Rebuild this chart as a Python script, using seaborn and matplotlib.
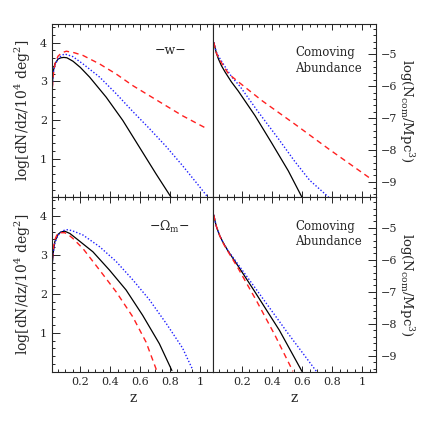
import numpy as np
import matplotlib
matplotlib.use("Agg")
import matplotlib.pyplot as plt
import seaborn as sns
from matplotlib.ticker import MultipleLocator, FixedLocator, FixedFormatter

# ---- top-left: log dN/dz, w variations ----
w_dndz_black_z = [0.013, 0.02, 0.029, 0.051, 0.07, 0.089, 0.11, 0.151, 0.2, 0.262, 0.373, 0.484, 0.595, 0.706, 0.806]
w_dndz_black_y = [2.98, 3.28, 3.45, 3.58, 3.61, 3.62, 3.61, 3.52, 3.36, 3.11, 2.59, 1.99, 1.30, 0.61, 0.01]
w_dndz_blue_z = [0.013, 0.02, 0.03, 0.05, 0.07, 0.095, 0.15, 0.218, 0.329, 0.44, 0.551, 0.662, 0.773, 0.884, 0.995, 1.05]
w_dndz_blue_y = [2.90, 3.25, 3.42, 3.58, 3.66, 3.71, 3.64, 3.45, 3.11, 2.68, 2.22, 1.78, 1.32, 0.82, 0.29, 0.02]
w_dndz_red_z = [0.013, 0.02, 0.03, 0.05, 0.075, 0.106, 0.16, 0.218, 0.329, 0.44, 0.551, 0.662, 0.773, 0.884, 1.05]
w_dndz_red_y = [2.85, 3.20, 3.45, 3.65, 3.74, 3.78, 3.74, 3.67, 3.45, 3.19, 2.89, 2.63, 2.37, 2.11, 1.77]

# ---- bottom-left: log dN/dz, Omega_m variations ----
om_dndz_black_z = [0.013, 0.02, 0.029, 0.051, 0.07, 0.095, 0.13, 0.173, 0.284, 0.395, 0.506, 0.617, 0.729, 0.813]
om_dndz_black_y = [2.82, 3.10, 3.34, 3.53, 3.59, 3.61, 3.55, 3.42, 3.08, 2.61, 2.10, 1.45, 0.72, 0.03]
om_dndz_blue_z = [0.013, 0.02, 0.03, 0.05, 0.07, 0.09, 0.118, 0.16, 0.218, 0.329, 0.44, 0.551, 0.662, 0.773, 0.884, 0.951]
om_dndz_blue_y = [2.85, 3.10, 3.32, 3.50, 3.58, 3.63, 3.65, 3.60, 3.51, 3.21, 2.83, 2.36, 1.85, 1.25, 0.61, 0.06]
om_dndz_red_z = [0.013, 0.02, 0.03, 0.045, 0.06, 0.095, 0.12, 0.151, 0.218, 0.329, 0.44, 0.551, 0.64, 0.711]
om_dndz_red_y = [2.90, 3.20, 3.40, 3.53, 3.57, 3.57, 3.52, 3.42, 3.16, 2.61, 2.05, 1.41, 0.76, 0.03]

# ---- top-right: log N_com, w variations ----
w_ncom_black_z = [0.013, 0.02, 0.03, 0.044, 0.065, 0.088, 0.13, 0.176, 0.287, 0.398, 0.509, 0.60]
w_ncom_black_y = [-4.62, -4.75, -4.95, -5.14, -5.36, -5.55, -5.86, -6.15, -6.92, -7.78, -8.66, -9.49]
w_ncom_blue_z = [0.013, 0.02, 0.03, 0.05, 0.09, 0.133, 0.187, 0.30, 0.443, 0.55, 0.65, 0.778]
w_ncom_blue_y = [-4.62, -4.75, -4.92, -5.10, -5.40, -5.71, -6.00, -6.75, -7.65, -8.35, -8.95, -9.49]
w_ncom_red_z = [0.013, 0.02, 0.03, 0.05, 0.08, 0.111, 0.20, 0.333, 0.555, 0.777, 1.055]
w_ncom_red_y = [-4.62, -4.75, -4.95, -5.15, -5.38, -5.61, -5.95, -6.45, -7.20, -7.97, -8.90]

# ---- bottom-right: log N_com, Omega_m variations ----
om_ncom_black_z = [0.013, 0.02, 0.03, 0.054, 0.08, 0.109, 0.176, 0.287, 0.45, 0.60]
om_ncom_black_y = [-4.60, -4.75, -4.95, -5.26, -5.50, -5.73, -6.20, -7.00, -8.20, -9.48]
om_ncom_blue_z = [0.013, 0.02, 0.03, 0.054, 0.08, 0.109, 0.176, 0.30, 0.50, 0.696]
om_ncom_blue_y = [-4.60, -4.75, -4.95, -5.26, -5.50, -5.72, -6.15, -6.95, -8.25, -9.48]
om_ncom_red_z = [0.013, 0.02, 0.03, 0.054, 0.08, 0.109, 0.176, 0.30, 0.42, 0.54]
om_ncom_red_y = [-4.60, -4.75, -4.95, -5.26, -5.52, -5.75, -6.27, -7.30, -8.35, -9.48]

x_ticks = [0.2, 0.4, 0.6, 0.8, 1.0]
x_tick_labels = ["0.2", "0.4", "0.6", "0.8", "1"]
left_y_ticks = [1, 2, 3, 4]
right_y_ticks = [-5, -6, -7, -8, -9]
right_y_labels = ["\u22125", "\u22126", "\u22127", "\u22128", "\u22129"]

sns.set_style("ticks")
plt.rcParams["font.family"] = ["DejaVu Serif"]
plt.rcParams["mathtext.fontset"] = "dejavuserif"

fig = plt.figure(figsize=(4.24, 4.24), dpi=100)
L, M, R = 0.1226, 0.503, 0.886
T, C, B = 0.943, 0.5347, 0.1233
ax_tl = fig.add_axes([L, C, M - L, T - C])
ax_tr = fig.add_axes([M, C, R - M, T - C])
ax_bl = fig.add_axes([L, B, M - L, C - B])
ax_br = fig.add_axes([M, B, R - M, C - B])

styles = {
    "black": dict(color="black", linestyle="-", linewidth=0.9),
    "blue": dict(color="#2020ff", linestyle=(0, (1, 1.4)), linewidth=1.0),
    "red": dict(color="#ff2020", linestyle=(0, (4, 3)), linewidth=1.0),
}


def draw(ax, curves):
    for name, z, y in curves:
        sns.lineplot(x=z, y=y, ax=ax, estimator=None, sort=False, **styles[name])


draw(ax_tl, [("black", w_dndz_black_z, w_dndz_black_y),
             ("blue", w_dndz_blue_z, w_dndz_blue_y),
             ("red", w_dndz_red_z, w_dndz_red_y)])
draw(ax_bl, [("black", om_dndz_black_z, om_dndz_black_y),
             ("blue", om_dndz_blue_z, om_dndz_blue_y),
             ("red", om_dndz_red_z, om_dndz_red_y)])
draw(ax_tr, [("black", w_ncom_black_z, w_ncom_black_y),
             ("blue", w_ncom_blue_z, w_ncom_blue_y),
             ("red", w_ncom_red_z, w_ncom_red_y)])
draw(ax_br, [("black", om_ncom_black_z, om_ncom_black_y),
             ("blue", om_ncom_blue_z, om_ncom_blue_y),
             ("red", om_ncom_red_z, om_ncom_red_y)])

for ax in (ax_tl, ax_tr, ax_bl, ax_br):
    ax.set_xlim(0.01, 1.09)
    ax.xaxis.set_major_locator(FixedLocator(x_ticks))
    ax.xaxis.set_major_formatter(FixedFormatter(x_tick_labels))
    ax.xaxis.set_minor_locator(MultipleLocator(0.05))
    for s in ax.spines.values():
        s.set_linewidth(0.8)
    ax.tick_params(which="both", direction="in", width=0.7, labelsize=8,
                   top=True, bottom=True)
    ax.tick_params(which="major", length=4.5)
    ax.tick_params(which="minor", length=2.5)
    ax.set_xlabel("")
    ax.set_ylabel("")

for ax in (ax_tl, ax_bl):
    ax.set_ylim(0.0, 4.48)
    ax.yaxis.set_major_locator(FixedLocator(left_y_ticks))
    ax.yaxis.set_minor_locator(MultipleLocator(0.2))
    ax.tick_params(axis="y", which="both", left=True, right=False)
    ax.tick_params(axis="y", which="major", length=6)
    ax.set_ylabel("log[dN/dz/10$^4$ deg$^2$]", fontsize=10)
    ax.yaxis.set_label_coords(-0.116, 0.5)

for ax in (ax_tr, ax_br):
    ax.set_ylim(-9.49, -4.05)
    ax.yaxis.tick_right()
    ax.yaxis.set_label_position("right")
    ax.yaxis.set_major_locator(FixedLocator(right_y_ticks))
    ax.yaxis.set_major_formatter(FixedFormatter(right_y_labels))
    ax.yaxis.set_minor_locator(MultipleLocator(0.2))
    ax.tick_params(axis="y", which="both", left=False, right=True)
    ax.tick_params(axis="y", which="major", length=6)
    ax.set_ylabel("log(N$_{\\rm com}$/Mpc$^3$)", fontsize=9.5, rotation=270)
    ax.yaxis.set_label_coords(1.245, 0.5)
    ax.text(0.505, 0.79, "Comoving\nAbundance", transform=ax.transAxes,
            fontsize=8.5, ha="left", va="center", linespacing=1.25)

for ax in (ax_tl, ax_tr):
    ax.tick_params(axis="x", labelbottom=False)

for ax in (ax_bl, ax_br):
    ax.set_xlabel("z", fontsize=10, labelpad=3)

ax_tl.text(0.737, 0.85, "\u2212w\u2212", transform=ax_tl.transAxes,
           fontsize=9, ha="center", va="center")
ax_bl.text(0.73, 0.83, "\u2212$\\Omega_{\\rm m}$\u2212", transform=ax_bl.transAxes,
           fontsize=9, ha="center", va="center")

fig.savefig("out.png", dpi=100)
